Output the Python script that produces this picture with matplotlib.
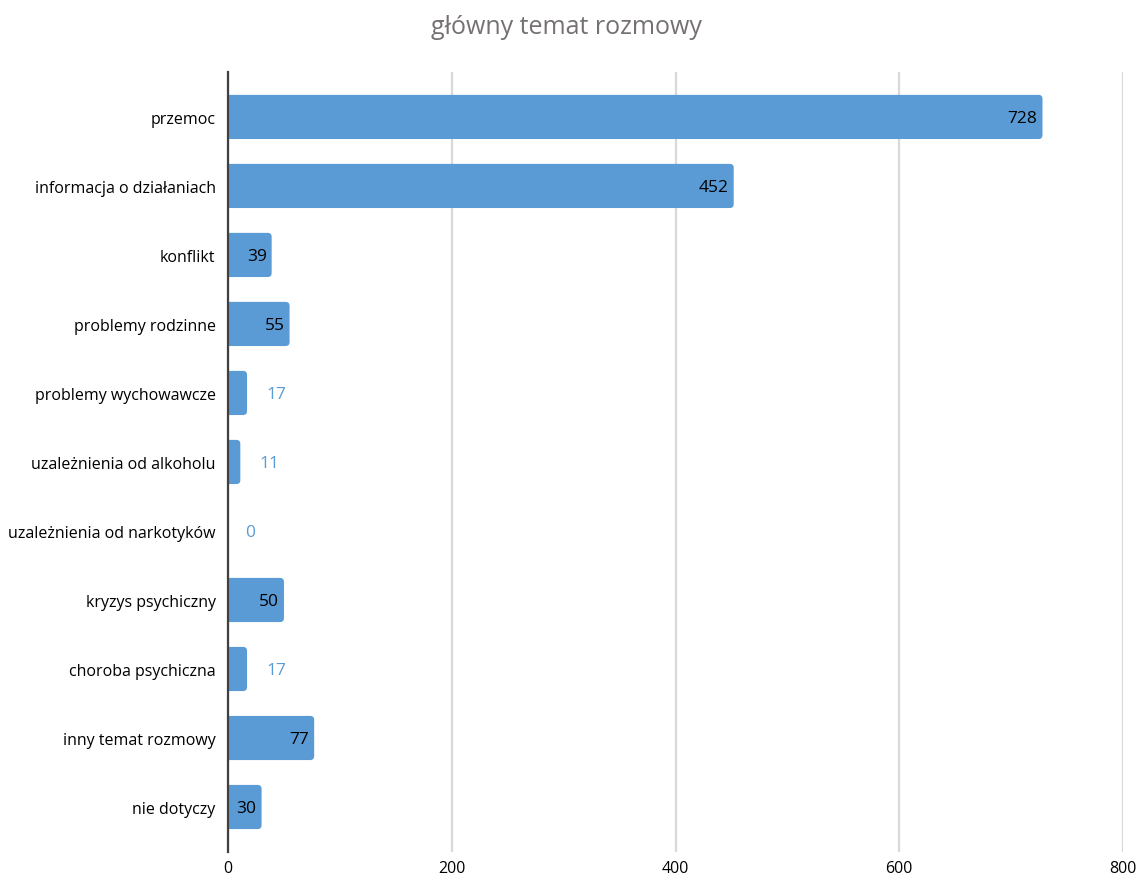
import matplotlib
matplotlib.use("Agg")
import matplotlib.pyplot as plt
from matplotlib.patches import FancyBboxPatch

plt.rcParams['font.family'] = ['Open Sans', 'DejaVu Sans']

categories = ["przemoc", "informacja o działaniach", "konflikt", "problemy rodzinne",
              "problemy wychowawcze", "uzależnienia od alkoholu",
              "uzależnienia od narkotyków", "kryzys psychiczny", "choroba psychiczna",
              "inny temat rozmowy", "nie dotyczy"]
values = [728, 452, 39, 55, 17, 11, 0, 50, 17, 77, 30]

BAR = "#5B9BD5"
fig = plt.figure(figsize=[11.39, 8.79], dpi=100)
ax = fig.add_axes([0.2002, 0.0296, 0.7858, 0.8874])

margin = 0.652
ax.set_xlim(0, 800)
ax.set_ylim(len(categories) - 1 + margin, -margin)

# rounded bar ends, left side hidden behind the axis
h = 0.64
px_x = 0.7858 * 1139 / 800
px_y = 0.8874 * 879 / (len(categories) - 1 + 2 * margin)
r = 4 / px_x
for i, v in enumerate(values):
    if v <= 0:
        continue
    p = FancyBboxPatch((-2 * r, i - h / 2), v + 2 * r, h,
                       boxstyle=f"round,pad=0,rounding_size={r}",
                       mutation_aspect=px_x / px_y,
                       facecolor=BAR, edgecolor="none", zorder=2)
    ax.add_patch(p)
    if v >= 30:
        ax.text(v - 5 / px_x, i + 0.02, str(v), ha="right", va="center",
                fontsize=12.5, color="#000000", zorder=3)
    else:
        ax.text(v + 19 / px_x, i + 0.02, str(v), ha="left", va="center",
                fontsize=12.5, color=BAR, zorder=3)
for i, v in enumerate(values):
    if v <= 0:
        ax.text(v + 17 / px_x, i + 0.02, str(v), ha="left", va="center",
                fontsize=12.5, color=BAR, zorder=3)

ax.set_yticks(range(len(categories)))
ax.set_yticklabels(categories)
ax.set_xticks([0, 200, 400, 600, 800])
ax.tick_params(axis="both", length=0, labelsize=11.5, colors="#000000")
ax.tick_params(axis="y", pad=9)
ax.tick_params(axis="x", pad=6)

ax.grid(axis="x", color="#D9D9D9", linewidth=1.6, zorder=0)
ax.set_axisbelow(True)
for s in ["top", "right", "bottom"]:
    ax.spines[s].set_visible(False)
ax.spines["left"].set_color("#404040")
ax.spines["left"].set_linewidth(1.6)
ax.spines["left"].set_zorder(4)

fig.text(0.497, 0.969, "główny temat rozmowy", ha="center", va="center",
         fontsize=18, color="#767171")

fig.savefig("out.png", dpi=100)
plt.close(fig)
